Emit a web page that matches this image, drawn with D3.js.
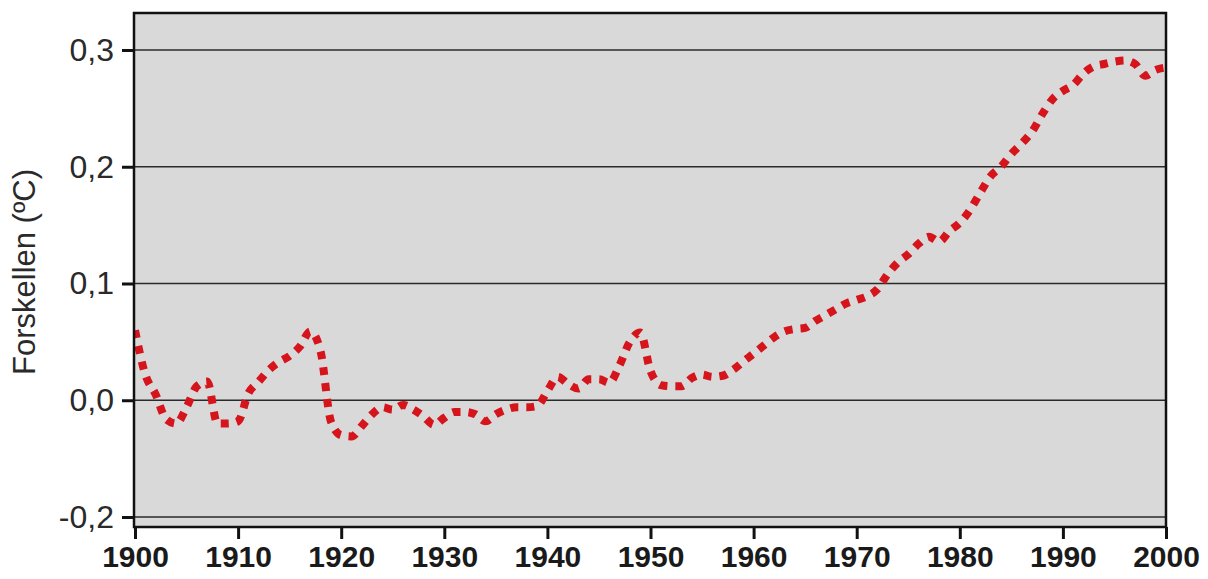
<!DOCTYPE html>
<html>
<head>
<meta charset="utf-8">
<script src="https://cdn.jsdelivr.net/npm/d3@7"></script>
<style>
  html, body { margin: 0; padding: 0; background: #ffffff; }
  svg { display: block; }
  text { font-family: "Liberation Sans", Arial, sans-serif; }
</style>
</head>
<body>
<svg id="chart" width="1208" height="579"></svg>
<script>
// ---- data ----
const years = d3.range(1900, 2001);
const values = [
  0.060, 0.022, 0.005, -0.016, -0.020, -0.006, 0.012, 0.016, -0.020, -0.020,
  -0.018, 0.006, 0.016, 0.026, 0.033, 0.038, 0.046, 0.059, 0.042, -0.018,
  -0.030, -0.031, -0.022, -0.012, -0.006, -0.008, -0.004, -0.008, -0.014, -0.021,
  -0.015, -0.010, -0.010, -0.012, -0.018, -0.012, -0.008, -0.006, -0.006, -0.005,
  0.008, 0.020, 0.014, 0.010, 0.018, 0.018, 0.015, 0.030, 0.050, 0.058,
  0.025, 0.013, 0.012, 0.012, 0.019, 0.022, 0.020, 0.021, 0.026, 0.033,
  0.040, 0.047, 0.054, 0.059, 0.061, 0.062, 0.068, 0.073, 0.078, 0.083,
  0.086, 0.089, 0.095, 0.108, 0.118, 0.125, 0.134, 0.140, 0.136, 0.145,
  0.152, 0.163, 0.178, 0.192, 0.200, 0.211, 0.220, 0.230, 0.245, 0.258,
  0.265, 0.270, 0.280, 0.286, 0.288, 0.290, 0.291, 0.288, 0.278, 0.283,
  0.285
];
const xTickValues = [1900, 1910, 1920, 1930, 1940, 1950, 1960, 1970, 1980, 1990, 2000];
const yTickValues = [-0.1, 0.0, 0.1, 0.2, 0.3];
const yTickLabels = ["-0,2", "0,0", "0,1", "0,2", "0,3"];
const yTitle = "Forskellen (ºC)";

// ---- layout ----
const svg = d3.select("#chart");
const plot = { left: 134, right: 1166, top: 13, bottom: 527 };

const x = d3.scaleLinear().domain([1900, 2000]).range([135, 1166]);
const y = d3.scaleLinear().domain([-0.1, 0.3]).range([517, 50]);

// background
svg.append("rect")
  .attr("x", plot.left).attr("y", plot.top)
  .attr("width", plot.right - plot.left).attr("height", plot.bottom - plot.top)
  .attr("fill", "#d9d9d9");

// grid lines
svg.append("g").selectAll("line").data(yTickValues).join("line")
  .attr("x1", plot.left).attr("x2", plot.right)
  .attr("y1", d => y(d)).attr("y2", d => y(d))
  .attr("stroke", "#2a2a2a").attr("stroke-width", 1.6);

// clip
svg.append("defs").append("clipPath").attr("id", "clip")
  .append("rect")
  .attr("x", plot.left).attr("y", plot.top)
  .attr("width", plot.right - plot.left).attr("height", plot.bottom - plot.top);

// data line
const line = d3.line()
  .x((d, i) => x(years[i]))
  .y(d => y(d))
  .curve(d3.curveMonotoneX);

svg.append("path")
  .datum(values)
  .attr("clip-path", "url(#clip)")
  .attr("d", line)
  .attr("fill", "none")
  .attr("stroke", "#d5141c")
  .attr("stroke-width", 8)
  .attr("stroke-dasharray", "8 8");

// frame
svg.append("rect")
  .attr("x", plot.left).attr("y", plot.top)
  .attr("width", plot.right - plot.left).attr("height", plot.bottom - plot.top)
  .attr("fill", "none").attr("stroke", "#111").attr("stroke-width", 2.5);

// x axis
const xAxis = d3.axisBottom(x)
  .tickValues(xTickValues)
  .tickFormat(d3.format("d"))
  .tickSize(12)
  .tickPadding(7);
const gx = svg.append("g").attr("transform", `translate(0,${plot.bottom})`).call(xAxis);
gx.select(".domain").remove();
gx.selectAll(".tick line").attr("stroke", "#111").attr("stroke-width", 3);
gx.selectAll(".tick text")
  .attr("fill", "#1a1a1a")
  .style("font-size", "30px")
  .style("font-weight", "bold")
  .style("font-family", "'Liberation Sans', Arial, sans-serif");

// y axis
const yAxis = d3.axisLeft(y)
  .tickValues(yTickValues)
  .tickFormat((d, i) => yTickLabels[i])
  .tickSize(12)
  .tickPadding(8);
const gy = svg.append("g").attr("transform", `translate(${plot.left},0)`).call(yAxis);
gy.select(".domain").remove();
gy.selectAll(".tick line").attr("stroke", "#111").attr("stroke-width", 3);
gy.selectAll(".tick text")
  .attr("fill", "#2a2a2a")
  .style("font-size", "32px")
  .style("font-family", "'Liberation Sans', Arial, sans-serif");

// y title
svg.append("text")
  .attr("transform", "translate(35,272) rotate(-90)")
  .attr("text-anchor", "middle")
  .attr("fill", "#2a2a2a")
  .style("font-size", "31px")
  .text(yTitle);
</script>
</body>
</html>
